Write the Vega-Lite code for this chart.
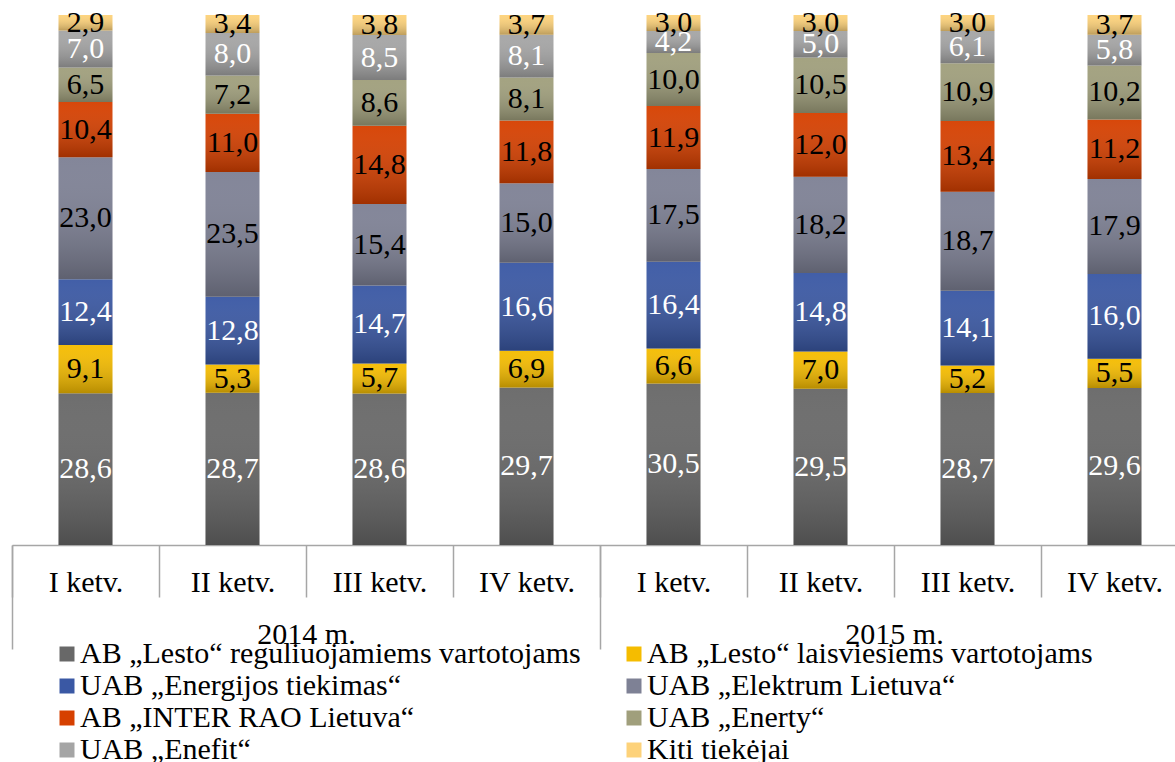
{
"$schema": "https://vega.github.io/schema/vega-lite/v6.json",
"width": 1163,
"height": 530,
"autosize": {"type": "none"},
"padding": {"left": 12, "top": 15, "right": 0, "bottom": 217},
"config": {
  "view": {"stroke": null},
  "font": "Liberation Serif",
  "locale": {"number": {"decimal": ",", "thousands": " ", "grouping": [3], "currency": ["", " €"]}}
},
"data": {"values": [
{"periodas":"2014 m. I ketv.","metai":"2014 m.","eil":1,"tiekejas":"AB „Lesto“ reguliuojamiems vartotojams","dalis":28.6},
{"periodas":"2014 m. I ketv.","metai":"2014 m.","eil":2,"tiekejas":"AB „Lesto“ laisviesiems vartotojams","dalis":9.1},
{"periodas":"2014 m. I ketv.","metai":"2014 m.","eil":3,"tiekejas":"UAB „Energijos tiekimas“","dalis":12.4},
{"periodas":"2014 m. I ketv.","metai":"2014 m.","eil":4,"tiekejas":"UAB „Elektrum Lietuva“","dalis":23.0},
{"periodas":"2014 m. I ketv.","metai":"2014 m.","eil":5,"tiekejas":"AB „INTER RAO Lietuva“","dalis":10.4},
{"periodas":"2014 m. I ketv.","metai":"2014 m.","eil":6,"tiekejas":"UAB „Enerty“","dalis":6.5},
{"periodas":"2014 m. I ketv.","metai":"2014 m.","eil":7,"tiekejas":"UAB „Enefit“","dalis":7.0},
{"periodas":"2014 m. I ketv.","metai":"2014 m.","eil":8,"tiekejas":"Kiti tiekėjai","dalis":2.9},
{"periodas":"2014 m. II ketv.","metai":"2014 m.","eil":1,"tiekejas":"AB „Lesto“ reguliuojamiems vartotojams","dalis":28.7},
{"periodas":"2014 m. II ketv.","metai":"2014 m.","eil":2,"tiekejas":"AB „Lesto“ laisviesiems vartotojams","dalis":5.3},
{"periodas":"2014 m. II ketv.","metai":"2014 m.","eil":3,"tiekejas":"UAB „Energijos tiekimas“","dalis":12.8},
{"periodas":"2014 m. II ketv.","metai":"2014 m.","eil":4,"tiekejas":"UAB „Elektrum Lietuva“","dalis":23.5},
{"periodas":"2014 m. II ketv.","metai":"2014 m.","eil":5,"tiekejas":"AB „INTER RAO Lietuva“","dalis":11.0},
{"periodas":"2014 m. II ketv.","metai":"2014 m.","eil":6,"tiekejas":"UAB „Enerty“","dalis":7.2},
{"periodas":"2014 m. II ketv.","metai":"2014 m.","eil":7,"tiekejas":"UAB „Enefit“","dalis":8.0},
{"periodas":"2014 m. II ketv.","metai":"2014 m.","eil":8,"tiekejas":"Kiti tiekėjai","dalis":3.4},
{"periodas":"2014 m. III ketv.","metai":"2014 m.","eil":1,"tiekejas":"AB „Lesto“ reguliuojamiems vartotojams","dalis":28.6},
{"periodas":"2014 m. III ketv.","metai":"2014 m.","eil":2,"tiekejas":"AB „Lesto“ laisviesiems vartotojams","dalis":5.7},
{"periodas":"2014 m. III ketv.","metai":"2014 m.","eil":3,"tiekejas":"UAB „Energijos tiekimas“","dalis":14.7},
{"periodas":"2014 m. III ketv.","metai":"2014 m.","eil":4,"tiekejas":"UAB „Elektrum Lietuva“","dalis":15.4},
{"periodas":"2014 m. III ketv.","metai":"2014 m.","eil":5,"tiekejas":"AB „INTER RAO Lietuva“","dalis":14.8},
{"periodas":"2014 m. III ketv.","metai":"2014 m.","eil":6,"tiekejas":"UAB „Enerty“","dalis":8.6},
{"periodas":"2014 m. III ketv.","metai":"2014 m.","eil":7,"tiekejas":"UAB „Enefit“","dalis":8.5},
{"periodas":"2014 m. III ketv.","metai":"2014 m.","eil":8,"tiekejas":"Kiti tiekėjai","dalis":3.8},
{"periodas":"2014 m. IV ketv.","metai":"2014 m.","eil":1,"tiekejas":"AB „Lesto“ reguliuojamiems vartotojams","dalis":29.7},
{"periodas":"2014 m. IV ketv.","metai":"2014 m.","eil":2,"tiekejas":"AB „Lesto“ laisviesiems vartotojams","dalis":6.9},
{"periodas":"2014 m. IV ketv.","metai":"2014 m.","eil":3,"tiekejas":"UAB „Energijos tiekimas“","dalis":16.6},
{"periodas":"2014 m. IV ketv.","metai":"2014 m.","eil":4,"tiekejas":"UAB „Elektrum Lietuva“","dalis":15.0},
{"periodas":"2014 m. IV ketv.","metai":"2014 m.","eil":5,"tiekejas":"AB „INTER RAO Lietuva“","dalis":11.8},
{"periodas":"2014 m. IV ketv.","metai":"2014 m.","eil":6,"tiekejas":"UAB „Enerty“","dalis":8.1},
{"periodas":"2014 m. IV ketv.","metai":"2014 m.","eil":7,"tiekejas":"UAB „Enefit“","dalis":8.1},
{"periodas":"2014 m. IV ketv.","metai":"2014 m.","eil":8,"tiekejas":"Kiti tiekėjai","dalis":3.7},
{"periodas":"2015 m. I ketv.","metai":"2015 m.","eil":1,"tiekejas":"AB „Lesto“ reguliuojamiems vartotojams","dalis":30.5},
{"periodas":"2015 m. I ketv.","metai":"2015 m.","eil":2,"tiekejas":"AB „Lesto“ laisviesiems vartotojams","dalis":6.6},
{"periodas":"2015 m. I ketv.","metai":"2015 m.","eil":3,"tiekejas":"UAB „Energijos tiekimas“","dalis":16.4},
{"periodas":"2015 m. I ketv.","metai":"2015 m.","eil":4,"tiekejas":"UAB „Elektrum Lietuva“","dalis":17.5},
{"periodas":"2015 m. I ketv.","metai":"2015 m.","eil":5,"tiekejas":"AB „INTER RAO Lietuva“","dalis":11.9},
{"periodas":"2015 m. I ketv.","metai":"2015 m.","eil":6,"tiekejas":"UAB „Enerty“","dalis":10.0},
{"periodas":"2015 m. I ketv.","metai":"2015 m.","eil":7,"tiekejas":"UAB „Enefit“","dalis":4.2},
{"periodas":"2015 m. I ketv.","metai":"2015 m.","eil":8,"tiekejas":"Kiti tiekėjai","dalis":3.0},
{"periodas":"2015 m. II ketv.","metai":"2015 m.","eil":1,"tiekejas":"AB „Lesto“ reguliuojamiems vartotojams","dalis":29.5},
{"periodas":"2015 m. II ketv.","metai":"2015 m.","eil":2,"tiekejas":"AB „Lesto“ laisviesiems vartotojams","dalis":7.0},
{"periodas":"2015 m. II ketv.","metai":"2015 m.","eil":3,"tiekejas":"UAB „Energijos tiekimas“","dalis":14.8},
{"periodas":"2015 m. II ketv.","metai":"2015 m.","eil":4,"tiekejas":"UAB „Elektrum Lietuva“","dalis":18.2},
{"periodas":"2015 m. II ketv.","metai":"2015 m.","eil":5,"tiekejas":"AB „INTER RAO Lietuva“","dalis":12.0},
{"periodas":"2015 m. II ketv.","metai":"2015 m.","eil":6,"tiekejas":"UAB „Enerty“","dalis":10.5},
{"periodas":"2015 m. II ketv.","metai":"2015 m.","eil":7,"tiekejas":"UAB „Enefit“","dalis":5.0},
{"periodas":"2015 m. II ketv.","metai":"2015 m.","eil":8,"tiekejas":"Kiti tiekėjai","dalis":3.0},
{"periodas":"2015 m. III ketv.","metai":"2015 m.","eil":1,"tiekejas":"AB „Lesto“ reguliuojamiems vartotojams","dalis":28.7},
{"periodas":"2015 m. III ketv.","metai":"2015 m.","eil":2,"tiekejas":"AB „Lesto“ laisviesiems vartotojams","dalis":5.2},
{"periodas":"2015 m. III ketv.","metai":"2015 m.","eil":3,"tiekejas":"UAB „Energijos tiekimas“","dalis":14.1},
{"periodas":"2015 m. III ketv.","metai":"2015 m.","eil":4,"tiekejas":"UAB „Elektrum Lietuva“","dalis":18.7},
{"periodas":"2015 m. III ketv.","metai":"2015 m.","eil":5,"tiekejas":"AB „INTER RAO Lietuva“","dalis":13.4},
{"periodas":"2015 m. III ketv.","metai":"2015 m.","eil":6,"tiekejas":"UAB „Enerty“","dalis":10.9},
{"periodas":"2015 m. III ketv.","metai":"2015 m.","eil":7,"tiekejas":"UAB „Enefit“","dalis":6.1},
{"periodas":"2015 m. III ketv.","metai":"2015 m.","eil":8,"tiekejas":"Kiti tiekėjai","dalis":3.0},
{"periodas":"2015 m. IV ketv.","metai":"2015 m.","eil":1,"tiekejas":"AB „Lesto“ reguliuojamiems vartotojams","dalis":29.6},
{"periodas":"2015 m. IV ketv.","metai":"2015 m.","eil":2,"tiekejas":"AB „Lesto“ laisviesiems vartotojams","dalis":5.5},
{"periodas":"2015 m. IV ketv.","metai":"2015 m.","eil":3,"tiekejas":"UAB „Energijos tiekimas“","dalis":16.0},
{"periodas":"2015 m. IV ketv.","metai":"2015 m.","eil":4,"tiekejas":"UAB „Elektrum Lietuva“","dalis":17.9},
{"periodas":"2015 m. IV ketv.","metai":"2015 m.","eil":5,"tiekejas":"AB „INTER RAO Lietuva“","dalis":11.2},
{"periodas":"2015 m. IV ketv.","metai":"2015 m.","eil":6,"tiekejas":"UAB „Enerty“","dalis":10.2},
{"periodas":"2015 m. IV ketv.","metai":"2015 m.","eil":7,"tiekejas":"UAB „Enefit“","dalis":5.8},
{"periodas":"2015 m. IV ketv.","metai":"2015 m.","eil":8,"tiekejas":"Kiti tiekėjai","dalis":3.7}
]},
"layer": [
  {
    "layer": [
      {
        "mark": {"type": "bar", "width": {"band": 0.367}},
        "encoding": {
          "x": {"field": "periodas", "type": "nominal", "sort": null,
            "scale": {"range": [0, 1176], "paddingInner": 0, "paddingOuter": 0},
            "axis": {"title": null, "orient": "bottom", "offset": 0, "tickBand": "extent", "tickSize": 52, "tickColor": "#a6a6a6", "tickWidth": 1.5, "domainColor": "#a6a6a6", "domainWidth": 1.5, "labelAngle": 0, "labelFontSize": 30, "labelFont": "Liberation Serif", "labelColor": "#000000", "labelPadding": -30, "labelOverlap": false, "labelBound": false, "labelExpr": "substring(datum.label, 8)", "grid": false}},
          "y": {"field": "dalis", "type": "quantitative", "stack": "normalize", "axis": null},
          "color": {"field": "tiekejas", "type": "nominal",
            "scale": {
              "domain": ["AB „Lesto“ reguliuojamiems vartotojams","UAB „Energijos tiekimas“","AB „INTER RAO Lietuva“","UAB „Enefit“","AB „Lesto“ laisviesiems vartotojams","UAB „Elektrum Lietuva“","UAB „Enerty“","Kiti tiekėjai"],
              "range": ["#686868","#3a58a4","#d64000","#a5a5a5","#f5bc00","#7e8195","#a09f7c","#fdd27a"]},
            "legend": {"title": null, "orient": "none", "legendX": 40, "legendY": 624, "columns": 2, "columnPadding": 38, "rowPadding": 2, "padding": 0, "symbolType": "square", "symbolSize": 225, "symbolStrokeWidth": 0, "symbolOpacity": 1, "labelFontSize": 30, "labelFont": "Liberation Serif", "labelColor": "#000000", "labelOffset": -2, "labelLimit": 800}},
          "order": {"field": "eil", "type": "quantitative"}
        }
      },
      {
        "mark": {"type": "bar", "width": {"band": 0.367},
          "fill": {"gradient": "linear", "x1": 0, "y1": 0, "x2": 0, "y2": 1,
            "stops": [{"offset": 0, "color": "rgba(255,255,255,0.04)"}, {"offset": 1, "color": "rgba(0,0,0,0.25)"}]}},
        "encoding": {
          "x": {"field": "periodas", "type": "nominal", "sort": null},
          "y": {"field": "dalis", "type": "quantitative", "stack": "normalize"},
          "detail": {"field": "tiekejas"},
          "order": {"field": "eil", "type": "quantitative"}
        }
      },
      {
        "mark": {"type": "text", "fontSize": 30, "font": "Liberation Serif", "align": "center", "baseline": "middle"},
        "encoding": {
          "x": {"field": "periodas", "type": "nominal", "sort": null},
          "y": {"field": "dalis", "type": "quantitative", "stack": "normalize", "bandPosition": 0.5},
          "text": {"field": "dalis", "type": "quantitative", "format": ".1f"},
          "color": {"condition": {"test": "datum.eil === 1 || datum.eil === 3 || datum.eil === 7", "value": "#ffffff"}, "value": "#000000"},
          "detail": {"field": "tiekejas"},
          "order": {"field": "eil", "type": "quantitative"}
        }
      }
    ]
  },
  {
    "mark": {"type": "rule", "opacity": 0},
    "encoding": {
      "x": {"field": "metai", "type": "nominal", "sort": null,
        "scale": {"range": [0, 1176], "paddingInner": 0, "paddingOuter": 0},
        "axis": {"title": null, "orient": "bottom", "offset": 0, "domain": false, "tickBand": "extent", "tickSize": 104, "tickColor": "#a6a6a6", "tickWidth": 1.5, "labelAngle": 0, "labelFontSize": 30, "labelFont": "Liberation Serif", "labelColor": "#000000", "labelPadding": -30, "labelOverlap": false, "labelBound": false, "grid": false}}
    }
  }
],
"resolve": {"scale": {"x": "independent"}, "axis": {"x": "independent"}}
}
